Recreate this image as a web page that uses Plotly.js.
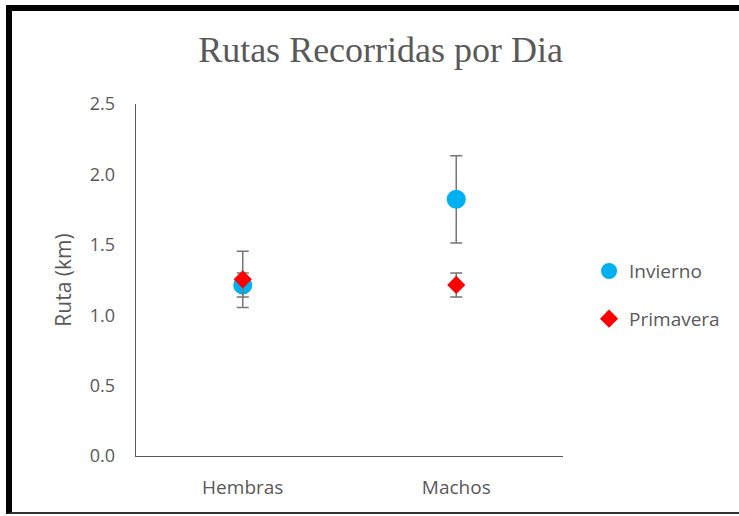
<!DOCTYPE html>
<html>
<head>
<meta charset="utf-8">
<script src="https://cdn.plot.ly/plotly-3.0.1.min.js"></script>
<style>
html,body{margin:0;padding:0;background:#fff;}
#frame{position:absolute;left:6px;top:5px;width:733px;height:509px;border-left:6px solid #000;border-top:6px solid #000;border-bottom:2px solid #333;box-sizing:border-box;pointer-events:none;}
#chart{position:absolute;left:0;top:0;width:739px;height:516px;}
</style>
</head>
<body>
<div id="chart"></div>
<div id="frame"></div>
<script>
const categories = ["Hembras", "Machos"];
const invierno = [1.215, 1.823];
const inviernoErr = [0.085, 0.31];
const primavera = [1.255, 1.215];
const primaveraErr = [0.20, 0.085];
const yTicks = [0, 0.5, 1.0, 1.5, 2.0, 2.5];

const grey = "#595959";
const sans = "Open Sans, Liberation Sans, sans-serif";
const errStyle = {type: "data", visible: true, color: "#767676", thickness: 1.5, width: 6};

const traces = [
  {
    type: "scatter", mode: "markers", name: "Invierno",
    x: categories, y: invierno,
    error_y: Object.assign({array: inviernoErr}, errStyle),
    marker: {symbol: "circle", size: 19, color: "#00B0F0"},
    legendgroup: "a"
  },
  {
    type: "scatter", mode: "markers", name: "Primavera",
    x: categories, y: primavera,
    error_y: Object.assign({array: primaveraErr}, errStyle),
    marker: {symbol: "diamond", size: 14, color: "#FF0000"},
    legendgroup: "b"
  }
];

const layout = {
  width: 739, height: 516,
  margin: {l: 136, r: 176, t: 104, b: 60},
  paper_bgcolor: "#fff", plot_bgcolor: "#fff",
  title: {
    text: "Rutas Recorridas por Dia",
    font: {family: "Liberation Serif, Times New Roman, serif", size: 36, color: grey},
    x: 0.515, xanchor: "center", y: 0.905, yanchor: "middle", yref: "container"
  },
  xaxis: {
    type: "category", range: [-0.5, 1.5],
    showline: true, linecolor: grey, linewidth: 1.3,
    showgrid: false, zeroline: false, ticks: "",
    tickfont: {family: sans, size: 19, color: grey},
    ticklabelstandoff: 14
  },
  yaxis: {
    range: [0, 2.5], tickvals: yTicks, tickformat: ".1f",
    showline: true, linecolor: grey, linewidth: 1.3,
    showgrid: false, zeroline: false, ticks: "",
    tickfont: {family: sans, size: 18, color: grey},
    ticklabelstandoff: 16,
    title: {text: "Ruta (km)", font: {family: sans, size: 21, color: grey}, standoff: 12}
  },
  showlegend: true,
  legend: {
    x: 1.061, xanchor: "left", y: 0.457, yanchor: "middle",
    font: {family: sans, size: 19, color: grey},
    tracegroupgap: 20, itemwidth: 30
  }
};

Plotly.newPlot("chart", traces, layout, {displayModeBar: false, staticPlot: true});
</script>
</body>
</html>
